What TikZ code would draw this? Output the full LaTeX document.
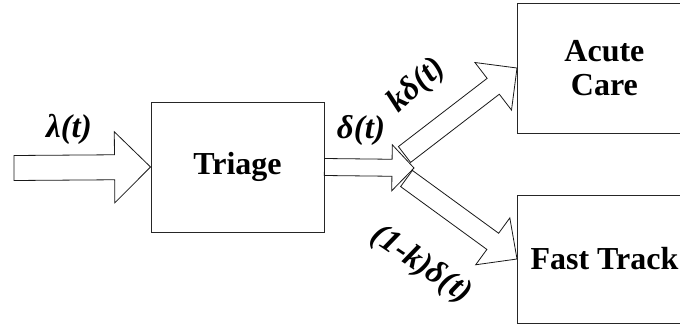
\documentclass[tikz,border=0pt]{standalone}
\usepackage{fontspec}
\setmainfont{Liberation Serif}
\usetikzlibrary{calc}

% block arrow: tail, tip, shaft half-width, head half-width, head length
\newcommand{\blockarrow}[5]{%
  \coordinate (ba-h) at ($(#2)!#5!(#1)$);
  \draw[blockarrowstyle]
    ($(#1)!#3!90:(#2)$) -- ($(ba-h)!#3!90:(#2)$) -- ($(ba-h)!#4!90:(#2)$) -- (#2)
    -- ($(ba-h)!#4!-90:(#2)$) -- ($(ba-h)!#3!-90:(#2)$) -- ($(#1)!#3!-90:(#2)$) -- cycle;
}

\begin{document}
\begin{tikzpicture}[x=1pt,y=-1pt,
  box/.style={draw=black!85,line width=0.9pt,fill=white,inner sep=0pt,
    minimum width=174pt,minimum height=130pt,align=center,
    font=\fontsize{32}{34}\selectfont\bfseries},
  blockarrowstyle/.style={draw=black!90,line width=0.8pt,fill=white,line join=miter},
  flowlabel/.style={font=\fontsize{33}{34}\selectfont\bfseries\itshape,inner sep=0pt}]
\useasboundingbox (0,0) rectangle (680,325);
\clip (0,0) rectangle (680,325);

% stations
\node[box,minimum width=173pt] (triage) at (237.5,167) {Triage};
\node[box,anchor=west] (acute) at (517,68) {Acute\\Care};
\node[box,anchor=west,minimum height=128pt] (fast) at (517,259) {Fast Track};

% flow points
\coordinate (in) at (14,168);
\coordinate (split) at (414,168);
\coordinate (up-tail) at (404.5,154.5);
\coordinate (lo-tail) at (406.5,178.5);

% arrivals and flows
\blockarrow{in}{triage.west}{12.5pt}{35.5pt}{36pt}
\blockarrow{triage.east}{split}{8.5pt}{23pt}{22pt}
\blockarrow{up-tail}{acute.west}{10pt}{30pt}{30pt}
\blockarrow{lo-tail}{fast.west}{10pt}{29pt}{30pt}

% rate labels
\node[flowlabel] (lam) at (69,129) {λ(t)};
\node[flowlabel] (del) at (361,130) {δ(t)};
\node[flowlabel,rotate=43] (kdel) at (417,86) {kδ(t)};
\node[flowlabel,rotate=-34] (rdel) at (421,265) {(1-k)δ(t)};
\end{tikzpicture}
\end{document}
